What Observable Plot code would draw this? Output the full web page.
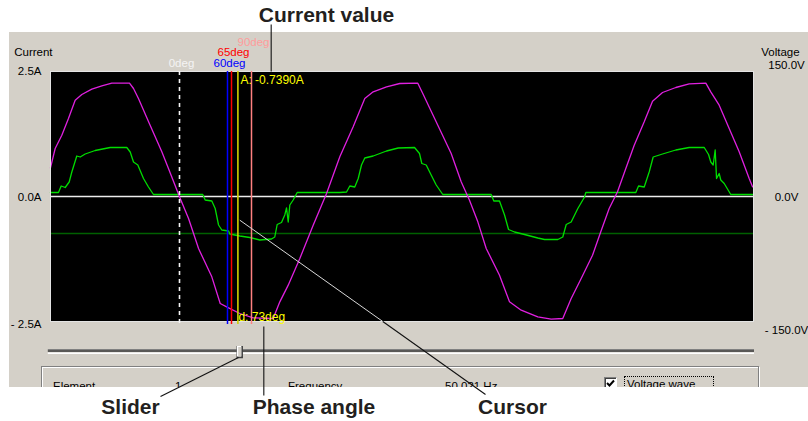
<!DOCTYPE html>
<html><head><meta charset="utf-8">
<script src="https://cdn.jsdelivr.net/npm/d3@7"></script>
<script src="https://cdn.jsdelivr.net/npm/@observablehq/plot@0.6"></script>
<style>
body{margin:0;background:#fff;}
#wrap{position:relative;width:808px;height:421px;overflow:hidden;font-family:"Liberation Sans",Arial,sans-serif;background:#fff;}
#panel{position:absolute;left:9px;top:32px;width:799px;height:355px;background:#d4d0c8;overflow:hidden;}
#group{position:absolute;left:32px;top:334px;width:716px;height:60px;border-top:1px solid #808080;border-left:1px solid #808080;border-right:1px solid #808080;box-shadow:inset 1px 1px 0 #fff,1px 1px 0 #fff;}
.ui{position:absolute;font-size:11.5px;line-height:11px;color:#000;white-space:nowrap;}
#check{position:absolute;left:595px;top:345px;width:11px;height:11px;background:#fff;border:1px solid;border-color:#808080 #fff #fff #808080;box-shadow:inset 1px 1px 0 #404040;}
#focus{position:absolute;left:615px;top:344px;width:88px;height:16px;border:1px dotted #000;}
#chart{position:absolute;left:0;top:0;}
</style>
</head><body>
<div id="wrap">
  <div id="panel">
    <div id="group"></div>
    <div class="ui" style="left:44px;top:348.6px">Element</div>
    <div class="ui" style="left:166px;top:348.6px">1</div>
    <div class="ui" style="left:279px;top:348.6px">Frequency</div>
    <div class="ui" style="left:436px;top:348.6px">50.021 Hz</div>
    <div id="check"><svg width="11" height="11" style="position:absolute;left:0;top:0"><polyline points="2,5 4.5,7.5 9,2.5" fill="none" stroke="#000" stroke-width="2"/></svg></div>
    <div id="focus"></div>
    <div class="ui" style="left:618px;top:347px">Voltage wave</div>
  </div>
  <div id="chart"></div>
</div>
<script>
// ---- Data (x in electrical degrees, 0deg = voltage zero crossing) ----
const voltageDeg = [-161.3,-155.4,-147.1,-138.8,-130.4,-122.1,-109.6,-97.1,-84.6,-62.5,-57.5,-51.3,-38.8,-22.1,-13.8,0.9,11.3,23.8,40.4,50.9,61.3,75.4,92.1,117.1,125.4,135.9,150.4,167.1,183.8,200.4,217.1,231.6,242.1,258.8,275.4,297.9,304.1,322.9,339.6,352.1,362.5,372.9,383.4,400,412.5,427.1,447.9,464.6,479.1,489.6,502.1,516.3,526.6,537.1,547.5,557.9,568.4,580.9,591.3,603.8,620.4,637.1,657.9,664.1,674.6,687.1,699.6,712.1,716.3];
const voltageVolts = [34.4,57.6,73.6,93.6,115.6,122.4,128.8,132.8,136,136,129.6,117.6,90,53.6,33.6,-2.4,-26.4,-62.4,-96.4,-128.4,-133.6,-140.4,-145.6,-146.4,-126.4,-106.4,-74.4,-34.4,3.6,47.6,83.6,117.6,125.6,131.6,135.6,136,123.6,85.6,51.6,17.6,-4.4,-30.4,-62.4,-94.4,-126.4,-136.4,-144.4,-147.2,-146.4,-122.4,-98.4,-70.4,-42.4,-14.4,5.6,33.6,61.6,89.6,114.4,124.8,130.8,135.2,136,125.6,109.6,81.6,53.6,21.6,11.6];
const currentDeg = [-161.3,-151.3,-147.9,-142.9,-137.9,-134.6,-128.4,-124.1,-117.9,-105.4,-86.6,-65.9,-61.6,-57.5,-52.1,-45,-38.8,-32.5,29.1,32.1,40.4,44.6,48.8,52.9,61.3,62.9,75.4,87.9,100.4,115,119.1,122.1,127.5,131.6,133.8,135.9,137.9,142.1,147.1,200.4,208.8,212.9,219.1,223.4,227.5,231.6,242.1,258.8,273.4,293.8,300,302.9,308.4,314.6,320.9,329.1,389.6,392.9,400,406.3,411.3,418.8,431.3,447.9,456.3,472.9,479.1,483.4,489.6,497.9,506.3,507.9,570.4,573.8,580.9,587.1,592.1,603.8,620.4,637.1,655.9,661.3,664.1,667.1,669.6,671.3,674.6,676.6,680.9,689.1,716.3];
const currentAmps = [0.08,0.08,0.21,0.18,0.29,0.49,0.81,0.79,0.85,0.92,0.98,0.98,0.89,0.69,0.63,0.36,0.19,0.04,0.04,-0.07,-0.09,-0.24,-0.57,-0.67,-0.69,-0.75,-0.79,-0.82,-0.87,-0.85,-0.81,-0.56,-0.52,-0.37,-0.23,-0.51,-0.17,-0.07,0.08,0.08,0.09,0.21,0.19,0.36,0.63,0.77,0.81,0.91,0.97,0.98,0.86,0.66,0.63,0.43,0.23,0.04,0.04,-0.09,-0.09,-0.37,-0.66,-0.71,-0.76,-0.83,-0.86,-0.86,-0.81,-0.56,-0.51,-0.24,-0.01,0.08,0.08,0.21,0.19,0.49,0.79,0.85,0.93,0.98,0.98,0.84,0.69,0.63,0.93,0.36,0.46,0.33,0.26,0.04,0.04];

const currentTicks = [2.5, 0, -2.5];
const currentTickLabels = ["2.5A", "0.0A", "- 2.5A"];
const voltageTickLabels = ["150.0V", "0.0V", "- 150.0V"];
const voltsPerAmp = 60; // 150 V full scale vs 2.5 A full scale

const markerDegs = [0, 60, 65, 90];
const markerLabels = ["0deg", "60deg", "65deg", "90deg"];
const cursorDeg = 73;
const cursorCurrent = -0.7390;
const cursorReadout = "A: -0.7390A";
const phaseReadout = "d: 73deg";

const annotationText = ["Current value", "Slider", "Phase angle", "Cursor"];
const annotationDeg = [183.75, -61.25, 168.1, 416.25];
const annotationAmp = [3.5, -4.34, -4.34, -4.34];
const leaderFrom = [[114.6, 3.44], [-23.75, -4.0], [105.4, -2.6], [254.1, -2.5]];
const leaderTo   = [[114.6, 2.5], [73.75, -3.22], [105.4, -3.98], [382.5, -3.96]];
const cursorPointerInside = [[75.4, -0.474], [254.1, -2.5]];

// ---- Build ----
const voltage = voltageDeg.map((x, i) => ({x, v: voltageVolts[i]}));
const current = currentDeg.map((x, i) => ({x, a: currentAmps[i]}));
const xDomain = [-161.25, 717.5];
const yDomain = [-2.5, 2.5];

const markerStyle = {
  0: {stroke: "#f4f4f4", dash: "4,4", width: 1.6, row: 0},
  60: {stroke: "#0000ff", row: 0},
  65: {stroke: "#ff0000", row: 1},
  90: {stroke: "#ff8080", text: "#ff9c9c", row: 2}
};
const rowDy = [-5, -15.5, -26];
const leftDy = [0, 1, 3];
const rightDy = [-6, 1, 9];
const uiFont = 11.5;

const marks = [
  Plot.frame({fill: "black"}),
  Plot.ruleY([cursorCurrent], {stroke: "#006000", strokeWidth: 1.5}),
  Plot.ruleY([0], {stroke: "#ececec", strokeWidth: 1.3}),
  Plot.line(current, {x: "x", y: "a", stroke: "#00dd00", strokeWidth: 1.3}),
  Plot.line(voltage, {x: "x", y: d => d.v / voltsPerAmp, stroke: "#e020e0", strokeWidth: 1.3}),
  Plot.frame({stroke: "#e4e4e4"})
];

markerDegs.forEach((deg, i) => {
  const st = markerStyle[deg];
  marks.push(Plot.ruleX([deg], {y1: () => 2.5, y2: () => -2.56, stroke: st.stroke, strokeDasharray: st.dash, strokeWidth: st.width || 1.5}));
  marks.push(Plot.text([markerLabels[i]], {x: () => deg, y: () => 2.5, text: d => d, dx: 2, dy: rowDy[st.row], lineAnchor: "bottom", textAnchor: "middle", fill: st.text || st.stroke, fontSize: uiFont}));
});

// cursor line + readouts
marks.push(Plot.ruleX([cursorDeg], {y1: () => 2.5, y2: () => -2.56, stroke: "#d2d200", strokeWidth: 1.6}));
marks.push(Plot.text([cursorReadout], {x: () => cursorDeg, y: () => 2.5, text: d => d, dx: 2.5, dy: 12, lineAnchor: "bottom", textAnchor: "start", fill: "#ffff00", fontSize: 12}));
marks.push(Plot.text([phaseReadout], {x: () => cursorDeg, y: () => -2.5, text: d => d, dx: 0.5, dy: -1, lineAnchor: "bottom", textAnchor: "start", fill: "#ffff00", fontSize: 12}));

// axes
currentTicks.forEach((t, i) => {
  marks.push(Plot.axisY([t], {anchor: "left", tickSize: 0, tickPadding: 9, tickFormat: () => currentTickLabels[i], label: null, dy: leftDy[i], fontSize: uiFont, fill: "#000"}));
  marks.push(Plot.axisY([t], {anchor: "right", tickSize: 0, tickPadding: 33, textAnchor: "middle", tickFormat: () => voltageTickLabels[i], label: null, dy: rightDy[i], fontSize: uiFont, fill: "#000"}));
});
marks.push(Plot.text(["Current"], {frameAnchor: "top-left", text: d => d, dx: -36.3, dy: -16, textAnchor: "start", lineAnchor: "bottom", fill: "#000", fontSize: uiFont}));
marks.push(Plot.text(["Voltage"], {frameAnchor: "top-right", text: d => d, dx: 7.7, dy: -16, textAnchor: "start", lineAnchor: "bottom", fill: "#000", fontSize: uiFont}));

// slider track and thumb
marks.push(Plot.ruleY([-3.06], {x1: () => -164, x2: () => 718.75, stroke: "#808080", strokeWidth: 1}));
marks.push(Plot.ruleY([-3.09], {x1: () => -164, x2: () => 718.75, stroke: "#303030", strokeWidth: 1.6}));
marks.push(Plot.ruleY([-3.135], {x1: () => -164, x2: () => 718.75, stroke: "#ffffff", strokeWidth: 1.4}));
marks.push(Plot.ruleX([cursorDeg], {y1: () => -3.0, y2: () => -3.245, dx: 1.8, stroke: "#404040", strokeWidth: 6.5}));
marks.push(Plot.ruleX([cursorDeg], {y1: () => -3.0, y2: () => -3.21, dx: 1.2, stroke: "#ffffff", strokeWidth: 4.5}));
marks.push(Plot.ruleX([cursorDeg], {y1: () => -3.02, y2: () => -3.21, dx: 1.8, stroke: "#d4d0c8", strokeWidth: 3}));

// annotation leaders and labels
marks.push(Plot.link([cursorPointerInside], {x1: d => d[0][0], y1: d => d[0][1], x2: d => d[1][0], y2: d => d[1][1], stroke: "#d8d8d8", strokeWidth: 1}));
marks.push(Plot.link(leaderFrom.map((f, i) => [f, leaderTo[i]]), {x1: d => d[0][0], y1: d => d[0][1], x2: d => d[1][0], y2: d => d[1][1], stroke: "#111", strokeWidth: 1.1}));
marks.push(Plot.text(annotationText, {x: (d, i) => annotationDeg[i], y: (d, i) => annotationAmp[i], text: d => d, textAnchor: "middle", lineAnchor: "bottom", fontSize: 21, fontWeight: "bold", fill: "#231f20"}));

const chart = Plot.plot({
  width: 808, height: 421,
  marginLeft: 50, marginRight: 55, marginTop: 71, marginBottom: 100,
  x: {domain: xDomain, axis: null},
  y: {domain: yDomain, axis: null},
  style: {background: "transparent", fontFamily: "'Liberation Sans', Arial, sans-serif", overflow: "visible"},
  marks
});
document.getElementById("chart").appendChild(chart);
</script>
</body></html>
